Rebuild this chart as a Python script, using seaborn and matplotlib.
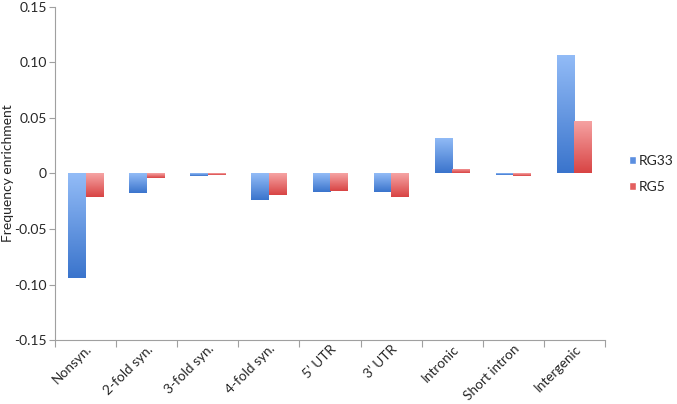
import numpy as np
import pandas as pd
import seaborn as sns
import matplotlib.pyplot as plt
from matplotlib.colors import LinearSegmentedColormap
from matplotlib.patches import Patch

categories = ['Nonsyn.', '2-fold syn.', '3-fold syn.', '4-fold syn.', "5\u2019 UTR",
              "3\u2019 UTR", 'Intronic', 'Short intron', 'Intergenic']
rg33 = [-0.094, -0.018, -0.0027, -0.024, -0.017, -0.017, 0.032, -0.0012, 0.107]
rg5 = [-0.021, -0.004, -0.0015, -0.019, -0.016, -0.021, 0.0042, -0.0025, 0.0477]
yticks = [0.15, 0.10, 0.05, 0, -0.05, -0.10, -0.15]
ytick_labels = ['0.15', '0.10', '0.05', '0', '-0.05', '-0.10', '-0.15']

df = pd.DataFrame({
    'category': categories * 2,
    'value': rg33 + rg5,
    'series': ['RG33'] * len(categories) + ['RG5'] * len(categories),
})

sns.set_style('white')
plt.rcParams['font.family'] = ['Lato', 'DejaVu Sans']

fig = plt.figure(figsize=(6.77, 4.04), dpi=100)
ax = fig.add_axes([0.0812, 0.1584, 0.8125, 0.8243])

base = {'RG33': '#5b8fe0', 'RG5': '#e35f5f'}
grads = {
    'RG33': LinearSegmentedColormap.from_list('b', ['#3a74cc', '#93bcf7']),
    'RG5': LinearSegmentedColormap.from_list('r', ['#d84444', '#f6a4a4']),
}
sns.barplot(data=df, x='category', y='value', hue='series', palette=base,
            width=0.57, ax=ax, legend=False, linewidth=0)

# paint a vertical gradient over each bar (light top, dark bottom)
grad = np.linspace(0, 1, 256).reshape(-1, 1)
patches = list(ax.patches)
n = len(categories)
for i, p in enumerate(patches[:2 * n]):
    key = 'RG33' if i < n else 'RG5'
    x0, y0 = p.get_x(), p.get_y()
    w, h = p.get_width(), p.get_height()
    ylo, yhi = min(y0, y0 + h), max(y0, y0 + h)
    im = ax.imshow(grad, cmap=grads[key], origin='lower', aspect='auto',
                   extent=[x0, x0 + w, ylo, yhi], zorder=p.get_zorder() + 0.1)
    im.set_clip_path(p)
ax.set_xlim(-0.5, n - 0.5)
ax.set_ylim(-0.15, 0.15)

ax.set_yticks(yticks)
ax.set_yticklabels(ytick_labels)
ax.set_xticks(range(n))
ax.set_xticklabels(categories, rotation=45, ha='right', rotation_mode='anchor')
ax.set_xticks(np.arange(-0.5, n, 1), minor=True)
ax.tick_params(axis='x', which='major', length=0, pad=2, labelsize=9.8)
ax.tick_params(axis='x', which='minor', length=5, width=0.8, color='#a0a0a0', direction='out', bottom=True)
ax.tick_params(axis='y', length=4, width=0.8, color='#a0a0a0', direction='out', left=True, labelsize=10, pad=2)

for s in ['top', 'right']:
    ax.spines[s].set_visible(False)
for s in ['left', 'bottom']:
    ax.spines[s].set_color('#a0a0a0')
    ax.spines[s].set_linewidth(0.8)

ax.set_xlabel('')
ax.set_ylabel('Frequency enrichment', fontsize=10)
ax.yaxis.set_label_coords(-0.074, 0.5)

handles = [Patch(facecolor='#5b8fe0', label='RG33'), Patch(facecolor='#e35f5f', label='RG5')]
fig.legend(handles=handles, loc='center left', bbox_to_anchor=(0.91, 0.57), frameon=False,
           handlelength=0.55, handleheight=0.55, handletextpad=0.2, labelspacing=1.0, fontsize=10)

fig.savefig('out.png', dpi=100)
